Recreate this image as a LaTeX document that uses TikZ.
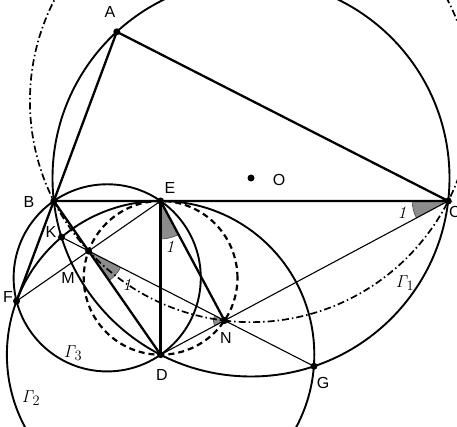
\documentclass[tikz,border=0pt]{standalone}
\usepackage[no-math]{fontspec}
\newfontfamily\lab{Liberation Sans}
\usetikzlibrary{calc,angles}
\begin{document}
\begin{tikzpicture}[x=1pt,y=1pt,
  thickline/.style={line width=2.3pt},
  circline/.style={line width=1.9pt},
  thinline/.style={line width=1.1pt},
  dashdotline/.style={line width=1.7pt, dash pattern=on 7pt off 3pt on 1.5pt off 3pt},
  dashcirc/.style={line width=2.2pt, dash pattern=on 6pt off 4pt},
  dotpt/.style={circle, fill=black, inner sep=0pt, minimum size=7pt},
  lbl/.style={font=\lab\fontsize{16}{18}\selectfont, inner sep=0pt},
  gam/.style={font=\fontsize{19}{21}\selectfont, inner sep=0pt},
  ang/.style={font=\fontsize{16}{18}\selectfont, inner sep=0pt},
  anglewedge/.style={draw=black!70, fill=black!45, line width=0.6pt}
]
\useasboundingbox (0,0) rectangle (457,426);
\clip (0,0) rectangle (457,426);
% points
\coordinate (O) at (251,248);
\coordinate (A) at (116.8,394.2);
\coordinate (B) at (53.8,225);
\coordinate (C) at (448.2,225);
\coordinate (D) at (160.6,71.3);
\coordinate (E) at (160.6,225);
\coordinate (M) at ($(B)!(E)!(D)$);
\coordinate (F) at ($(E)!2!(M)$);
\coordinate (N) at ($(D)!(E)!(C)$);
\coordinate (K) at (61.51,188.91);
\coordinate (G) at (313.97,59.75);
\coordinate (Q3) at ($(B)!0.5!(D)$);
\coordinate (QD) at ($(E)!0.5!(D)$);
\coordinate (Q1) at (251,324.92);
% angle wedges
\pic[anglewedge, angle radius=36pt] {angle = B--C--N};
\pic[anglewedge, angle radius=38pt] {angle = D--E--N};
\pic[anglewedge, angle radius=36pt] {angle = D--M--N};
\pic[anglewedge, angle radius=11pt] {angle = M--N--D};
% circles
\draw[circline] (O) circle[radius=198.5];
\draw[circline] (D) circle[radius=153.7];
\draw[circline] (Q3) circle[radius=93.58];
\draw[dashcirc] (QD) circle[radius=76.85];
\draw[dashdotline] (Q1) circle[radius=221.07];
% lines
\draw[thickline] (A) -- (B) -- (C) -- cycle;
\draw[thickline] (E) -- (D);
\draw[thickline] (B) -- (D);
\draw[thickline] (E) -- (N);
\draw[thickline] (B) -- (F);
\draw[thinline] (F) -- (E);
\draw[thinline] (K) -- (G);
\draw[thinline] (D) -- (C);
% dots
\foreach \p in {A,B,C,D,E,F,G,K,M,N,O} \node[dotpt] (d\p) at (\p) {};
% labels
\node[lbl] (lA) at (110,414) {A};
\node[lbl] (lB) at (29,224) {B};
\node[lbl] (lC) at (455,214) {C};
\node[lbl] (lD) at (162,51) {D};
\node[lbl] (lE) at (170,238) {E};
\node[lbl] (lF) at (8,129) {F};
\node[lbl] (lG) at (323,43) {G};
\node[lbl] (lK) at (51,194) {K};
\node[lbl] (lM) at (68,148) {M};
\node[lbl] (lN) at (226,88) {N};
\node[lbl] (lO) at (279,246) {O};
\node[gam] (g1) at (405,143) {$\mathit{\Gamma}_{1}$};
\node[gam] (g2) at (31,28) {$\mathit{\Gamma}_{2}$};
\node[gam] (g3) at (73,73) {$\mathit{\Gamma}_{3}$};
\node[ang] (a1) at (403,213) {$\mathit{1}$};
\node[ang] (a2) at (171,179) {$\mathit{1}$};
\node[ang] (a3) at (128,141) {$\mathit{1}$};
\end{tikzpicture}
\end{document}
